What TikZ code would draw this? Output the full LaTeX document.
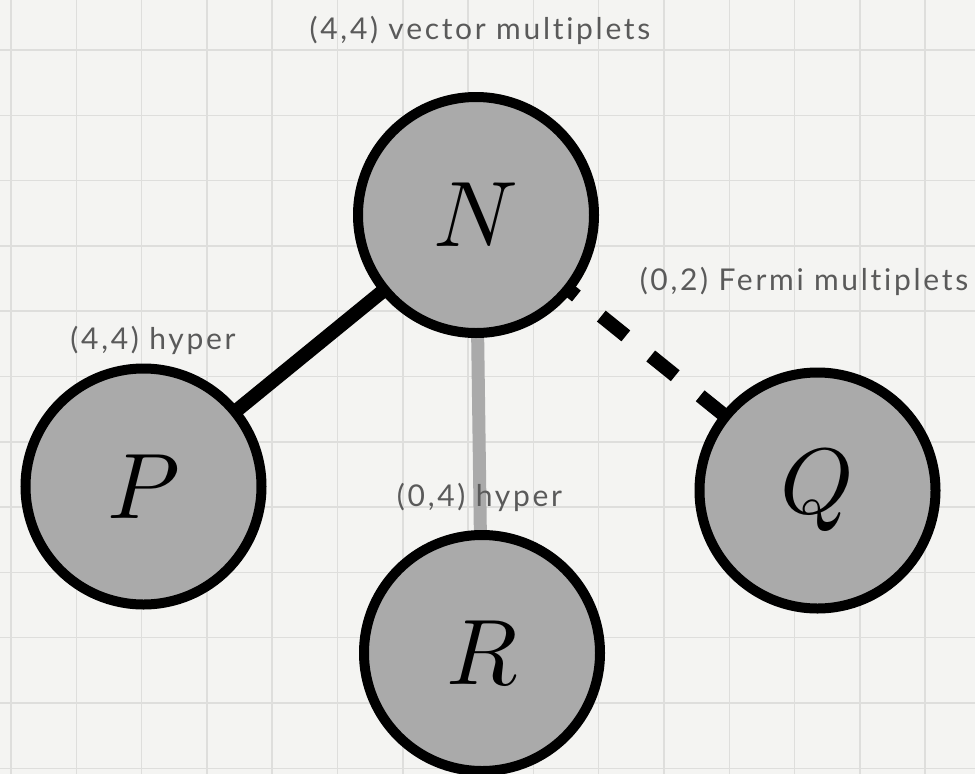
\documentclass[tikz,border=0pt]{standalone}
\usepackage{fontspec}
\newfontfamily\lblfont[LetterSpace=9,Ligatures={NoCommon}]{Lato}
\definecolor{paper}{HTML}{F4F4F2}
\definecolor{gridc}{HTML}{DEDEDC}
\definecolor{ballfill}{HTML}{AAAAAA}
\definecolor{labelc}{HTML}{5A5A5A}
\pgfdeclarelayer{gridlayer}
\pgfdeclarelayer{edgelayer}
\pgfsetlayers{gridlayer,edgelayer,main}
\tikzset{
  ball/.style={circle, draw=black, fill=ballfill, line width=10pt, minimum size=236pt, inner sep=0pt},
  gridline/.style={draw=gridc, line width=1.5pt},
  hyperline/.style={draw=black, line width=14pt},
  grayline/.style={draw=ballfill, line width=13pt},
  fermiline/.style={draw=black, line width=14pt, dash pattern=on 31.5pt off 32pt, dash phase=29.5pt},
  lbl/.style={font=\lblfont\fontsize{30}{35}\selectfont, text=labelc, inner sep=0pt},
}
\begin{document}
\begin{tikzpicture}[x=1pt,y=-1pt]
\useasboundingbox (0,0) rectangle (975,774);
\begin{pgfonlayer}{gridlayer}
  \fill[paper] (0,0) rectangle (975,774);
  \foreach \i in {0,...,14} \draw[gridline] ({11+65.3*\i},0) -- ({11+65.3*\i},774);
  \foreach \j in {0,...,12} \draw[gridline] (0,{-15.3+65.3*\j}) -- (975,{-15.3+65.3*\j});
\end{pgfonlayer}

\node[ball] (N) at (476,215) {\scalebox{9.3}{$N$}};
\node[ball] (P) at (143.5,486.5) {\scalebox{9.3}{$P$}};
\node[ball] (Q) at (817.5,490.5) {\scalebox{9.3}{$Q$}};
\node[ball] (R) at (482,653) {\scalebox{9.3}{$R$}};

\begin{pgfonlayer}{edgelayer}
  \draw[hyperline] (P.center) -- (N.center);
  \draw[grayline] (N.center) -- (R.center);
  \draw[fermiline] (N.center) -- (Q.center);
\end{pgfonlayer}

\node[lbl] (lvec) at (480,30) {(4,4) vector multiplets};
\node[lbl] (lfermi) at (804,281.5) {(0,2) Fermi multiplets};
\node[lbl] (lhyp44) at (153,340.5) {(4,4) hyper};
\node[lbl] (lhyp04) at (479.5,497) {(0,4) hyper};
\end{tikzpicture}
\end{document}
